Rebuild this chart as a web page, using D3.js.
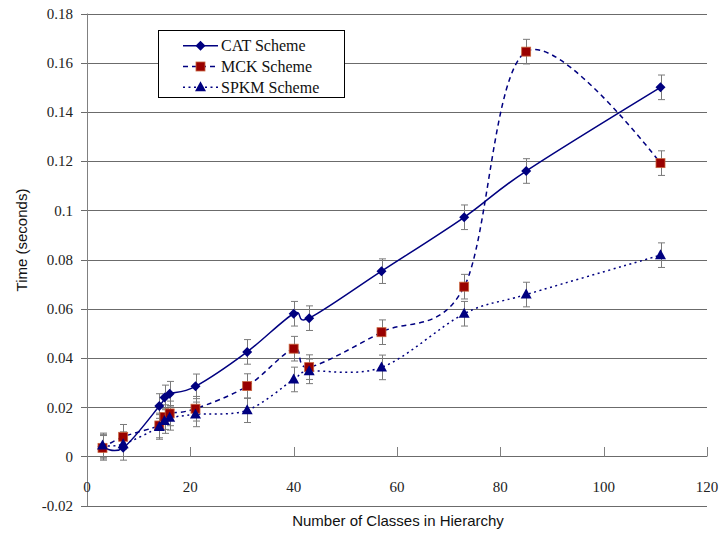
<!DOCTYPE html>
<html>
<head>
<meta charset="utf-8">
<script src="https://cdnjs.cloudflare.com/ajax/libs/d3/7.8.5/d3.min.js"></script>
<style>
  body { margin: 0; background: #fff; }
  svg { display: block; }
</style>
</head>
<body>
<svg id="chart" width="719" height="533"></svg>
<script>
// data
var classes = [3, 7, 14, 15, 16, 21, 31, 40, 43, 57, 73, 85, 111];
var catTimes = [0.004, 0.0035, 0.0205, 0.024, 0.0255, 0.0285, 0.0425, 0.058, 0.0562, 0.0753, 0.0972, 0.116, 0.150];
var mckTimes = [0.0035, 0.008, 0.0126, 0.016, 0.0175, 0.0194, 0.0286, 0.0438, 0.0363, 0.0505, 0.069, 0.1645, 0.1192];
var spkmTimes = [0.0045, 0.005, 0.012, 0.0144, 0.0157, 0.0171, 0.0188, 0.0313, 0.0346, 0.0362, 0.058, 0.0658, 0.0818];
var errBar = 0.005;
var xTicks = [0, 20, 40, 60, 80, 100, 120];
var yTicks = [-0.02, 0, 0.02, 0.04, 0.06, 0.08, 0.1, 0.12, 0.14, 0.16, 0.18];
var seriesNames = ['CAT Scheme', 'MCK Scheme', 'SPKM Scheme'];

var svg = d3.select('#chart');
var navy = '#000080';

var x = d3.scaleLinear().domain([0, 120]).range([87, 707]);
var y = d3.scaleLinear().domain([-0.02, 0.18]).range([505.7, 13.5]);

var series = [
  {name: seriesNames[0], vals: catTimes, dash: null, marker: 'diamond'},
  {name: seriesNames[1], vals: mckTimes, dash: '5,4', marker: 'square'},
  {name: seriesNames[2], vals: spkmTimes, dash: '2,3.5', marker: 'triangle'}
];

// gridlines
svg.append('g')
  .selectAll('line')
  .data(yTicks)
  .join('line')
  .attr('x1', x(0) - 6)
  .attr('x2', x(120))
  .attr('y1', function(d) { return Math.round(y(d)) + 0.5; })
  .attr('y2', function(d) { return Math.round(y(d)) + 0.5; })
  .attr('stroke', '#6b6b6b')
  .attr('stroke-width', 1);

// y axis line
svg.append('line')
  .attr('x1', Math.round(x(0)) + 0.5).attr('x2', Math.round(x(0)) + 0.5)
  .attr('y1', y(0.18)).attr('y2', y(-0.02) + 0.5)
  .attr('stroke', '#808080');

// x ticks on the zero line, pointing up
svg.append('g')
  .selectAll('line')
  .data(xTicks.slice(1))
  .join('line')
  .attr('x1', function(d) { return Math.round(x(d)) + 0.5; })
  .attr('x2', function(d) { return Math.round(x(d)) + 0.5; })
  .attr('y1', Math.round(y(0)) + 0.5)
  .attr('y2', Math.round(y(0)) - 9)
  .attr('stroke', '#808080');

// tick labels (plain hyphen for negatives, like the original)
svg.append('g')
  .selectAll('text')
  .data(yTicks)
  .join('text')
  .attr('x', 73)
  .attr('y', function(d) { return y(d); })
  .attr('dy', '0.35em')
  .attr('text-anchor', 'end')
  .style('font', '15px "Liberation Serif", serif')
  .style('fill', '#222')
  .text(function(d) { return String(+d.toFixed(2)); });

svg.append('g')
  .selectAll('text')
  .data(xTicks)
  .join('text')
  .attr('x', function(d) { return x(d); })
  .attr('y', 487)
  .attr('dy', '0.35em')
  .attr('text-anchor', 'middle')
  .style('font', '15px "Liberation Serif", serif')
  .style('fill', '#222')
  .text(function(d) { return d; });

// axis titles
svg.append('text')
  .attr('transform', 'translate(27,240) rotate(-90)')
  .attr('text-anchor', 'middle')
  .style('font', '15px "Liberation Sans", Arial, sans-serif')
  .style('fill', '#111')
  .text('Time (seconds)');

svg.append('text')
  .attr('x', 398)
  .attr('y', 526)
  .attr('text-anchor', 'middle')
  .style('font', '15px "Liberation Sans", Arial, sans-serif')
  .style('fill', '#111')
  .text('Number of Classes in Hierarchy');

// smoothed lines like excel
var line = d3.line()
  .x(function(d) { return x(d[0]); })
  .y(function(d) { return y(d[1]); })
  .curve(d3.curveCardinal.tension(0));

series.forEach(function(s) {
  var pts = classes.map(function(c, i) { return [c, s.vals[i]]; });
  svg.append('path')
    .attr('d', line(pts))
    .attr('fill', 'none')
    .attr('stroke', navy)
    .attr('stroke-width', 1.5)
    .attr('stroke-dasharray', s.dash);
});

// error bars
series.forEach(function(s) {
  var g = svg.append('g').attr('stroke', '#7a7a7a').attr('stroke-width', 1);
  classes.forEach(function(c, i) {
    var cx = Math.round(x(c)) + 0.5;
    var top = y(s.vals[i] + errBar), bot = y(s.vals[i] - errBar);
    g.append('line').attr('x1', cx).attr('x2', cx).attr('y1', top).attr('y2', bot);
    g.append('line').attr('x1', cx - 3.5).attr('x2', cx + 3.5).attr('y1', top).attr('y2', top);
    g.append('line').attr('x1', cx - 3.5).attr('x2', cx + 3.5).attr('y1', bot).attr('y2', bot);
  });
});

function drawMarker(g, type, cx, cy) {
  if (type === 'diamond') {
    g.append('path')
      .attr('d', 'M' + cx + ',' + (cy - 5) + 'L' + (cx + 5) + ',' + cy + 'L' + cx + ',' + (cy + 5) + 'L' + (cx - 5) + ',' + cy + 'Z')
      .attr('fill', navy);
  } else if (type === 'square') {
    g.append('rect')
      .attr('x', cx - 4.5).attr('y', cy - 4.5)
      .attr('width', 9).attr('height', 9)
      .attr('fill', '#990000')
      .attr('stroke', '#c8643c')
      .attr('stroke-width', 0.8);
  } else {
    g.append('path')
      .attr('d', 'M' + cx + ',' + (cy - 6) + 'L' + (cx + 5.5) + ',' + (cy + 4) + 'L' + (cx - 5.5) + ',' + (cy + 4) + 'Z')
      .attr('fill', navy);
  }
}

// markers
series.forEach(function(s) {
  var g = svg.append('g');
  classes.forEach(function(c, i) {
    drawMarker(g, s.marker, x(c), y(s.vals[i]));
  });
});

// legend
var lg = svg.append('g');
lg.append('rect')
  .attr('x', 158.5).attr('y', 30.5)
  .attr('width', 186).attr('height', 67)
  .attr('fill', '#fff')
  .attr('stroke', '#000')
  .attr('stroke-width', 1);

series.forEach(function(s, i) {
  var ly = 45.7 + i * 20.8;
  lg.append('line')
    .attr('x1', 183).attr('x2', 218)
    .attr('y1', ly).attr('y2', ly)
    .attr('stroke', navy)
    .attr('stroke-width', 1.5)
    .attr('stroke-dasharray', s.dash);
  drawMarker(lg, s.marker, 200.5, ly);
  lg.append('text')
    .attr('x', 221)
    .attr('y', ly)
    .attr('dy', '0.35em')
    .style('font', '16px "Liberation Serif", serif')
    .style('fill', '#111')
    .text(s.name);
});
</script>
</body>
</html>
